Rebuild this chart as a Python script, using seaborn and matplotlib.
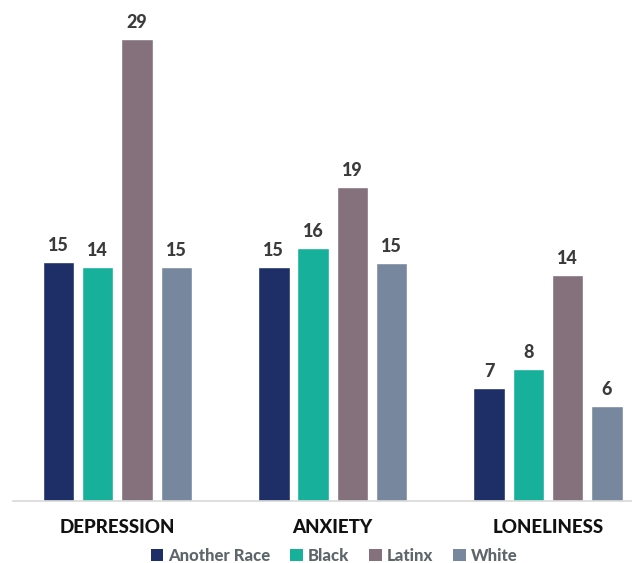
import matplotlib
matplotlib.use("Agg")
import matplotlib.pyplot as plt
import seaborn as sns
import pandas as pd
from matplotlib.patches import Patch

categories = ["DEPRESSION", "ANXIETY", "LONELINESS"]
groups = ["Another Race", "Black", "Latinx", "White"]
another_race = [15.0, 14.7, 7.1]
black = [14.7, 15.9, 8.3]
latinx = [29.0, 19.7, 14.2]
white = [14.7, 14.95, 5.97]
labels_another_race = ["15", "15", "7"]
labels_black = ["14", "16", "8"]
labels_latinx = ["29", "19", "14"]
labels_white = ["15", "15", "6"]

colors = ["#1d2f66", "#17b09a", "#84717c", "#77889e"]

rows = []
for g, vals in zip(groups, [another_race, black, latinx, white]):
    for c, v in zip(categories, vals):
        rows.append({"category": c, "group": g, "value": v})
df = pd.DataFrame(rows)

sns.set_style("white")
plt.rcParams["font.family"] = ["Lato", "DejaVu Sans"]

fig = plt.figure(figsize=(6.32, 5.63), dpi=100)
ax = fig.add_axes([13 / 632, (563 - 501) / 563, 619 / 632, 481 / 563])

sns.barplot(data=df, x="category", y="value", hue="group", order=categories,
            hue_order=groups, palette=colors, width=0.73, gap=0.2,
            ax=ax, legend=False, saturation=1)

for cont, labs in zip(ax.containers, [labels_another_race, labels_black, labels_latinx, labels_white]):
    ax.bar_label(cont, labels=labs, padding=6, fontsize=13, fontweight="black", color="#3b3b3b")

ax.set_xlim(-0.485, 2.39)
ax.set_ylim(0, 481 / 15.92)
ax.set_xlabel("")
ax.set_ylabel("")
ax.set_yticks([])
ax.tick_params(axis="x", length=0, pad=13)
for lab in ax.get_xticklabels():
    lab.set_fontsize(13.5)
    lab.set_fontweight("black")
    lab.set_color("#111111")
for s in ["left", "right", "top"]:
    ax.spines[s].set_visible(False)
ax.spines["bottom"].set_color("#d9d9d9")
ax.spines["bottom"].set_linewidth(1.2)

handles = [Patch(facecolor=c, edgecolor="none") for c in colors]
leg = fig.legend(handles, groups, loc="center", bbox_to_anchor=(334 / 632, 1 - 556 / 563),
                 ncol=4, frameon=False, handlelength=0.75, handleheight=0.75,
                 handletextpad=0.3, columnspacing=1.2, fontsize=12)
for t in leg.get_texts():
    t.set_color("#5d666b")
    t.set_fontweight("black")

fig.savefig("out.png", dpi=100)
